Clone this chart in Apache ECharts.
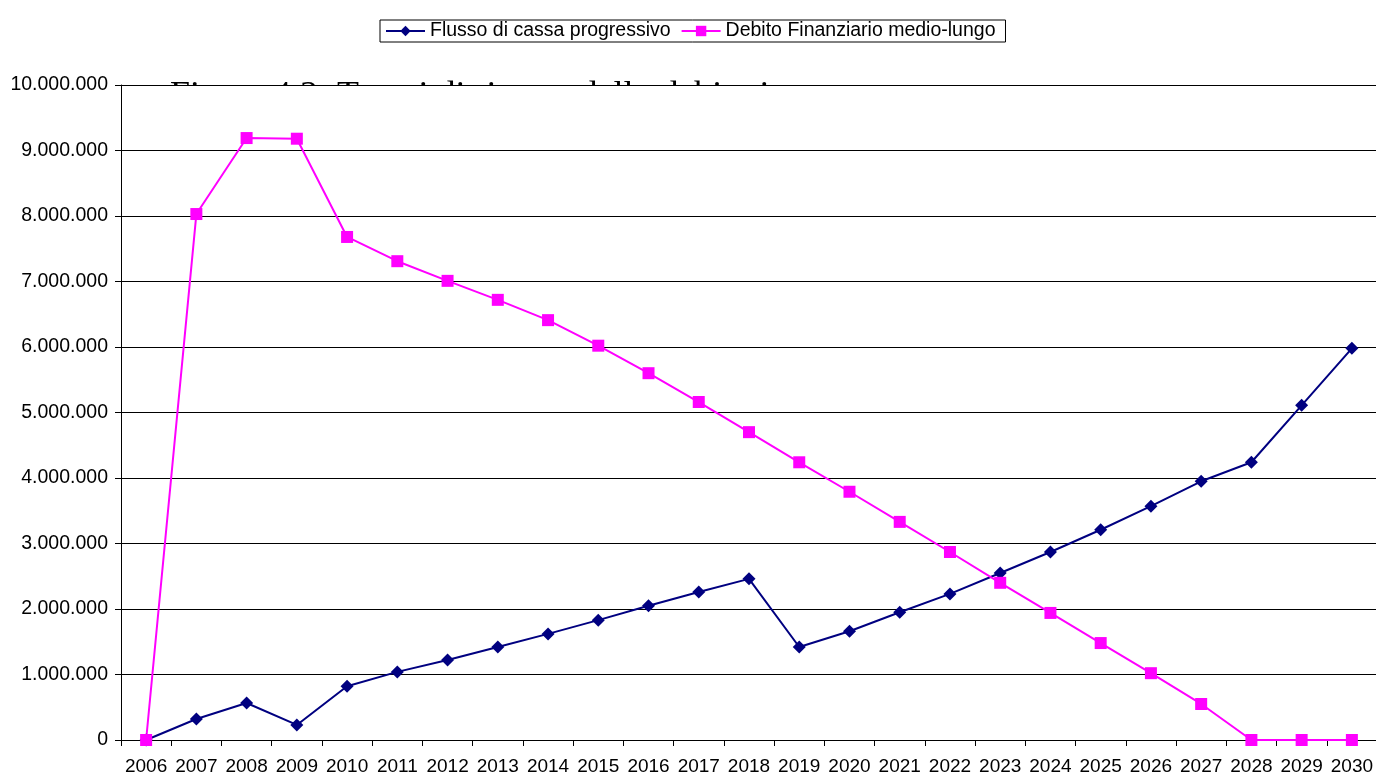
<!DOCTYPE html>
<html>
<head>
<meta charset="utf-8">
<script src="https://cdn.jsdelivr.net/npm/echarts@6/dist/echarts.min.js"></script>
<style>
html,body{margin:0;padding:0;background:#fff;}
#c{width:1376px;height:775px;}
</style>
</head>
<body>
<div id="c"></div>
<script>
var categories = ['2006','2007','2008','2009','2010','2011','2012','2013','2014','2015','2016','2017','2018','2019','2020','2021','2022','2023','2024','2025','2026','2027','2028','2029','2030'];
var flussoCassa = [0, 320000, 565000, 230000, 820000, 1040000, 1220000, 1420000, 1620000, 1830000, 2050000, 2260000, 2460000, 1420000, 1660000, 1950000, 2230000, 2550000, 2870000, 3210000, 3570000, 3950000, 4240000, 5110000, 5980000];
var debitoFinanziario = [0, 8030000, 9190000, 9180000, 7680000, 7310000, 7010000, 6720000, 6410000, 6020000, 5600000, 5160000, 4700000, 4240000, 3790000, 3330000, 2870000, 2400000, 1940000, 1480000, 1020000, 550000, 0, 0, 0];
var seriesNames = ['Flusso di cassa progressivo', 'Debito Finanziario medio-lungo'];
var captionText = 'Figura 4.3: Tempi di rientro dello debito in';

var chart = echarts.init(document.getElementById('c'), null, {renderer: 'canvas'});
function fmt(v){ return String(v).replace(/\B(?=(\d{3})+(?!\d))/g, '.'); }
chart.setOption({
  animation: false,
  backgroundColor: '#fff',
  textStyle: {fontFamily: 'Liberation Sans, Arial, sans-serif'},
  legend: {
    left: 380, top: 20,
    padding: [1, 10, 1, 5],
    itemGap: 10,
    itemWidth: 39, itemHeight: 13,
    borderColor: '#000', borderWidth: 1, borderRadius: 0,
    textStyle: {fontSize: 19.5, color: '#000', fontFamily: 'Liberation Sans, Arial, sans-serif'},
    data: seriesNames
  },
  graphic: [
    {type: 'text', z: 1, left: 170, top: 79, style: {text: captionText, font: '36px "Liberation Serif", "Times New Roman", serif', fill: '#000'}},
    {type: 'rect', z: 2, shape: {x: 121, y: 85, width: 1260, height: 660}, style: {fill: '#fff'}}
  ],
  grid: {left: 121, top: 85, width: 1256, height: 655, containLabel: false, outerBoundsMode: 'none'},
  xAxis: {
    type: 'category', data: categories, boundaryGap: true, z: 5,
    axisLine: {lineStyle: {color: '#000', width: 1}},
    axisTick: {show: true, interval: 0, length: 6, lineStyle: {color: '#000'}},
    axisLabel: {interval: 0, fontSize: 19, color: '#000', margin: 17},
    splitLine: {show: false}
  },
  yAxis: {
    type: 'value', min: 0, max: 10000000, interval: 1000000, z: 5,
    axisLine: {show: true, lineStyle: {color: '#000', width: 1}},
    axisTick: {show: true, length: 6, lineStyle: {color: '#000'}},
    axisLabel: {fontSize: 19.5, color: '#000', margin: 13, formatter: fmt},
    splitLine: {show: true, lineStyle: {color: '#000', width: 1}}
  },
  series: [
    {name: seriesNames[0], type: 'line', data: flussoCassa, z: 6,
     symbol: 'diamond', symbolSize: 13,
     lineStyle: {color: '#000080', width: 2}, itemStyle: {color: '#000080'}},
    {name: seriesNames[1], type: 'line', data: debitoFinanziario, z: 6,
     symbol: 'rect', symbolSize: 12,
     lineStyle: {color: '#FF00FF', width: 2}, itemStyle: {color: '#FF00FF'}}
  ]
});
</script>
</body>
</html>
